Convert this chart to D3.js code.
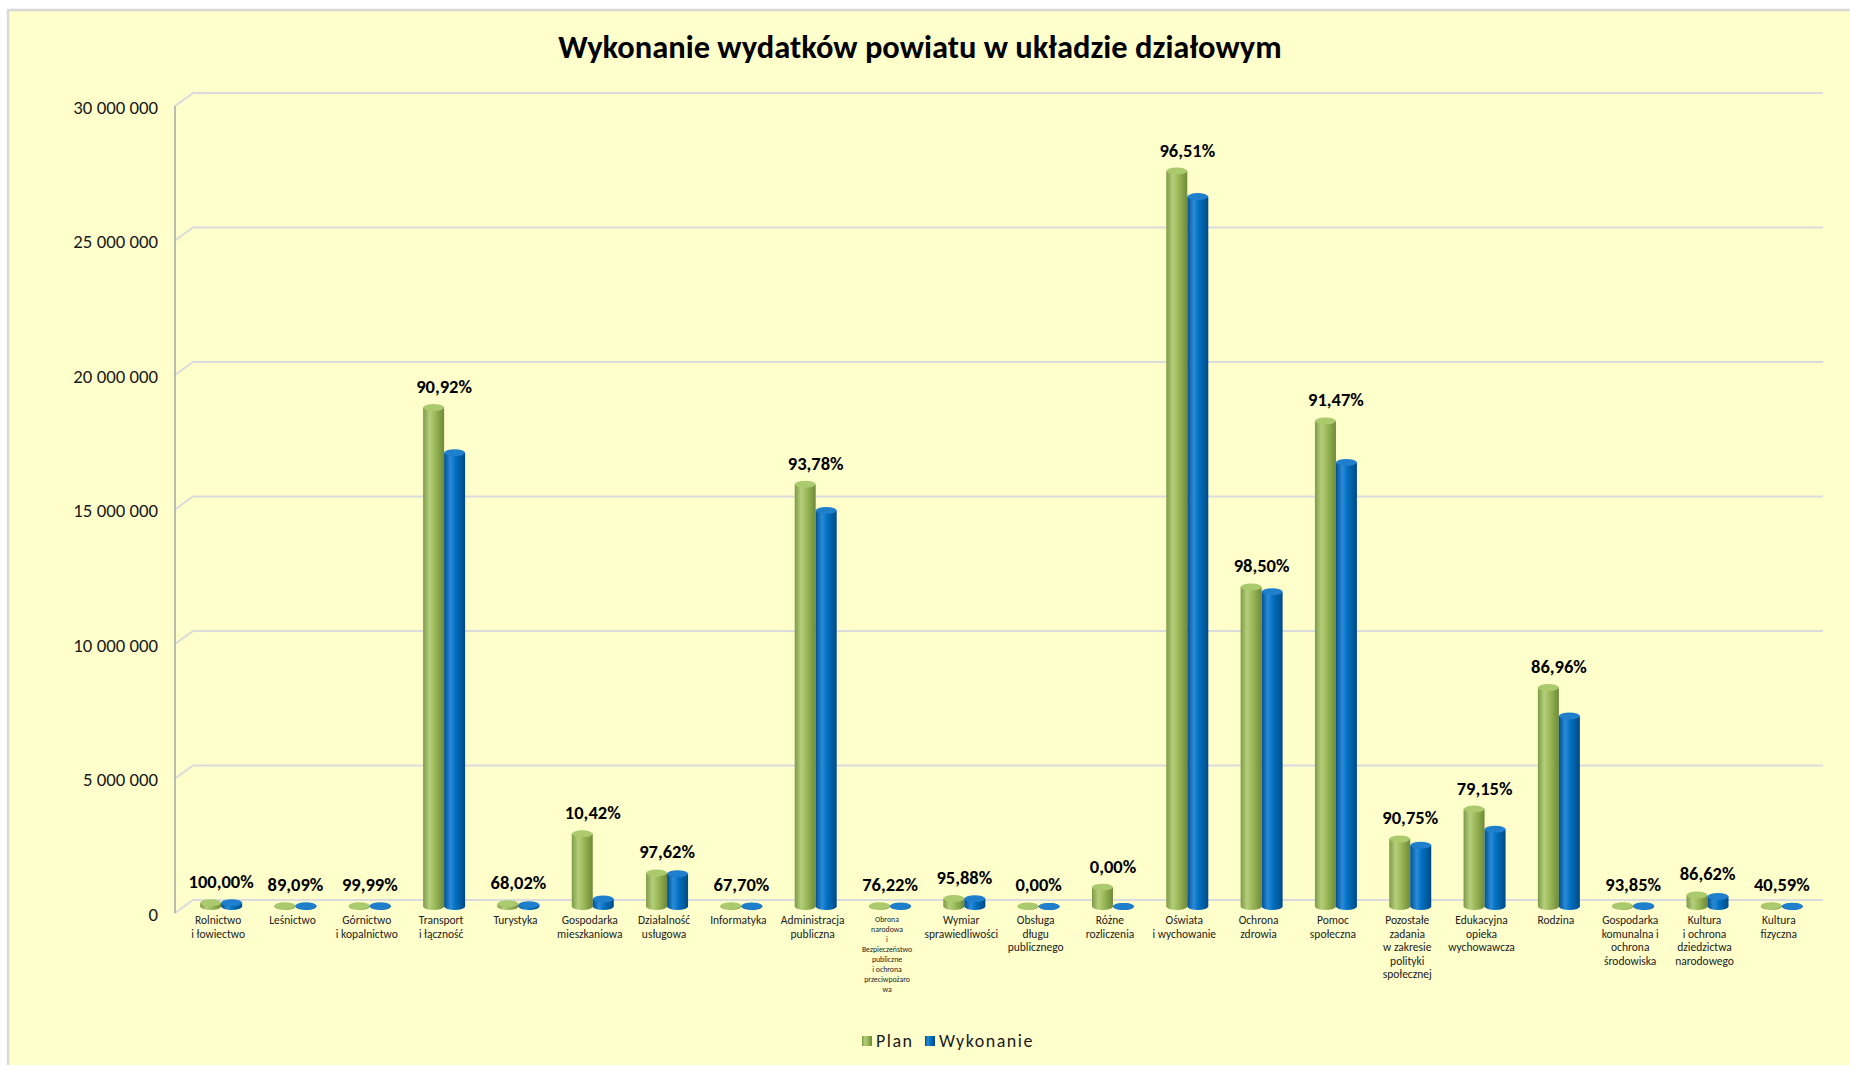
<!DOCTYPE html>
<html>
<head>
<meta charset="utf-8">
<script src="https://cdn.jsdelivr.net/npm/d3@7"></script>
<style>
  body { margin: 0; background: #ffffff; }
  svg { display: block; font-family: Carlito, Calibri, Lato, sans-serif; }
</style>
</head>
<body>
<svg id="chart"></svg>
<script>
var WIDTH = 1850;
var HEIGHT = 1065;

// dane (zł)
var categories = [
    'Rolnictwo\ni łowiectwo',
    'Leśnictwo',
    'Górnictwo\ni kopalnictwo',
    'Transport\ni łączność',
    'Turystyka',
    'Gospodarka\nmieszkaniowa',
    'Działalność\nusługowa',
    'Informatyka',
    'Administracja\npubliczna',
    'Obrona\nnarodowa\ni\nBezpieczeństwo\npubliczne\ni ochrona\nprzeciwpożaro\nwa',
    'Wymiar\nsprawiedliwości',
    'Obsługa\ndługu\npublicznego',
    'Różne\nrozliczenia',
    'Oświata\ni wychowanie',
    'Ochrona\nzdrowia',
    'Pomoc\nspołeczna',
    'Pozostałe\nzadania\nw zakresie\npolityki\nspołecznej',
    'Edukacyjna\nopieka\nwychowawcza',
    'Rodzina',
    'Gospodarka\nkomunalna i\nochrona\nśrodowiska',
    'Kultura\ni ochrona\ndziedzictwa\nnarodowego',
    'Kultura\nfizyczna'
];

var plan = [140000, 30000, 30000, 18550000, 100000, 2700000, 1250000, 30000,
    15700000, 30000, 300000, 20000, 720000, 27340000, 11880000, 18050000,
    2510000, 3620000, 8140000, 30000, 430000, 30000];

var wykonanie = [140000, 27000, 30000, 16870000, 68000, 280000, 1220000, 20000,
    14720000, 23000, 290000, 0, 0, 26390000, 11700000, 16510000,
    2280000, 2870000, 7080000, 28000, 370000, 12000];

var pctLabels = ['100,00%', '89,09%', '99,99%', '90,92%', '68,02%', '10,42%',
    '97,62%', '67,70%', '93,78%', '76,22%', '95,88%', '0,00%', '0,00%',
    '96,51%', '98,50%', '91,47%', '90,75%', '79,15%', '86,96%', '93,85%',
    '86,62%', '40,59%'];

var yTicks = [0, 5000000, 10000000, 15000000, 20000000, 25000000, 30000000];

var seriesNames = ['Plan', 'Wykonanie'];

// wygląd
var AXIS_X = 175;      // przednia krawędź osi
var DEPTH_X = 18;      // głębia 3D
var DEPTH_Y = 13;
var GRID_END = 1823;
var BAR_W = 21;
var RY = 3.5;

var svg = d3.select('#chart')
    .attr('width', WIDTH)
    .attr('height', HEIGHT);

var defs = svg.append('defs');
var makeGrad = function(id, stops){
    var g = defs.append('linearGradient')
        .attr('id', id)
        .attr('x1', '0%').attr('x2', '100%')
        .attr('y1', '0%').attr('y2', '0%');
    stops.forEach(function(s){
        g.append('stop').attr('offset', s[0]).attr('stop-color', s[1]);
    });
};
makeGrad('gGreen', [['0%', '#7f9a45'], ['30%', '#b4cf7c'], ['55%', '#9cbb5a'], ['100%', '#6f8a38']]);
makeGrad('gBlue', [['0%', '#00508f'], ['30%', '#2b8ad8'], ['55%', '#0070c0'], ['100%', '#004a84']]);

// tło
svg.append('rect')
    .attr('x', 8).attr('y', 10)
    .attr('width', WIDTH).attr('height', HEIGHT)
    .attr('fill', '#ffffcc')
    .attr('stroke', '#d9d9d9')
    .attr('stroke-width', 2.5);

svg.append('text')
    .attr('x', 920)
    .attr('y', 58)
    .attr('text-anchor', 'middle')
    .style('font-size', '32.5px')
    .style('font-weight', 'bold')
    .attr('fill', '#000')
    .text('Wykonanie wydatków powiatu w układzie działowym');

// skale (w połowie głębi)
var yScale = d3.scaleLinear()
    .domain([0, 30000000])
    .range([906.5, 99.5]);

var xScale = d3.scaleBand()
    .domain(d3.range(categories.length))
    .range([184, 1819]);

// siatka 3D
var grid = svg.append('g');
yTicks.forEach(function(t){
    var y = yScale(t);
    grid.append('path')
        .attr('d', 'M' + AXIS_X + ',' + (y + DEPTH_Y / 2) +
            'L' + (AXIS_X + DEPTH_X) + ',' + (y - DEPTH_Y / 2) +
            'L' + GRID_END + ',' + (y - DEPTH_Y / 2))
        .attr('fill', 'none')
        .attr('stroke', '#d9dbdc')
        .attr('stroke-width', 2);
});

svg.append('line')
    .attr('x1', AXIS_X).attr('x2', AXIS_X)
    .attr('y1', yScale(30000000) + DEPTH_Y / 2)
    .attr('y2', yScale(0) + DEPTH_Y / 2)
    .attr('stroke', '#a6a6a6')
    .attr('stroke-width', 1.5);

var plLocale = d3.formatLocale({decimal: ',', thousands: ' ', grouping: [3], currency: ['', ' zł']});
var leftAxis = d3.axisLeft(yScale)
    .tickValues(yTicks)
    .tickFormat(plLocale.format(',d'))
    .tickSize(0)
    .tickPadding(0);

var axisG = svg.append('g')
    .attr('transform', 'translate(158,' + (DEPTH_Y / 2 + 1) + ')')
    .call(leftAxis);
axisG.select('.domain').remove();
axisG.selectAll('text')
    .style('font-size', '18.8px')
    .style('font-family', 'Carlito, Calibri, Lato, sans-serif')
    .attr('fill', '#1a1a1a');

// słupki walcowe
var series = [
    {name: seriesNames[0], values: plan, grad: 'url(#gGreen)', top: '#abc96d', off: -BAR_W},
    {name: seriesNames[1], values: wykonanie, grad: 'url(#gBlue)', top: '#1f7fcc', off: 0}
];

var bars = svg.append('g');
series.forEach(function(s){
    var g = bars.append('g');
    s.values.forEach(function(v, i){
        var x0 = xScale(i) + xScale.bandwidth() / 2 + s.off;
        var yb = yScale(0);
        var yt = yScale(v);
        g.append('ellipse')
            .attr('cx', x0 + BAR_W / 2).attr('cy', yb)
            .attr('rx', BAR_W / 2).attr('ry', RY)
            .attr('fill', s.grad);
        g.append('rect')
            .attr('x', x0).attr('y', yt)
            .attr('width', BAR_W).attr('height', yb - yt)
            .attr('fill', s.grad);
        g.append('ellipse')
            .attr('cx', x0 + BAR_W / 2).attr('cy', yt)
            .attr('rx', BAR_W / 2).attr('ry', RY)
            .attr('fill', s.top);
    });
});

// etykiety procentowe
svg.append('g').selectAll('text')
    .data(pctLabels)
    .enter()
    .append('text')
    .attr('x', function(d, i){ return xScale(i) + xScale.bandwidth() / 2; })
    .attr('y', function(d, i){ return yScale(Math.max(plan[i], wykonanie[i])) - RY - 11; })
    .attr('text-anchor', 'middle')
    .style('font-size', '18.5px')
    .style('font-weight', 'bold')
    .attr('fill', '#000')
    .text(function(d){ return d; });

// etykiety kategorii
var catG = svg.append('g');
categories.forEach(function(c, i){
    var lines = c.split('\n');
    var small = lines.length > 6;
    var t = catG.append('text')
        .attr('x', xScale(i) + xScale.bandwidth() / 2 - 3)
        .attr('y', small ? 922 : 924)
        .attr('text-anchor', 'middle')
        .style('font-size', small ? '7.8px' : '11.5px')
        .attr('fill', '#222');
    lines.forEach(function(l, k){
        t.append('tspan')
            .attr('x', xScale(i) + xScale.bandwidth() / 2 - 3)
            .attr('dy', k === 0 ? 0 : (small ? 10 : 13.5))
            .text(l);
    });
});

// legenda
var legend = svg.append('g').attr('transform', 'translate(862,1036)');
var legendItems = [
    {name: seriesNames[0], fill: 'url(#gGreen)', x: 0},
    {name: seriesNames[1], fill: 'url(#gBlue)', x: 63}
];
legendItems.forEach(function(d){
    legend.append('rect')
        .attr('x', d.x).attr('y', 0)
        .attr('width', 10).attr('height', 10)
        .attr('fill', d.fill);
    legend.append('text')
        .attr('x', d.x + 14).attr('y', 11)
        .style('font-size', '18px')
        .style('letter-spacing', '1.5px')
        .attr('fill', '#1a1a1a')
        .text(d.name);
});
</script>
</body>
</html>
